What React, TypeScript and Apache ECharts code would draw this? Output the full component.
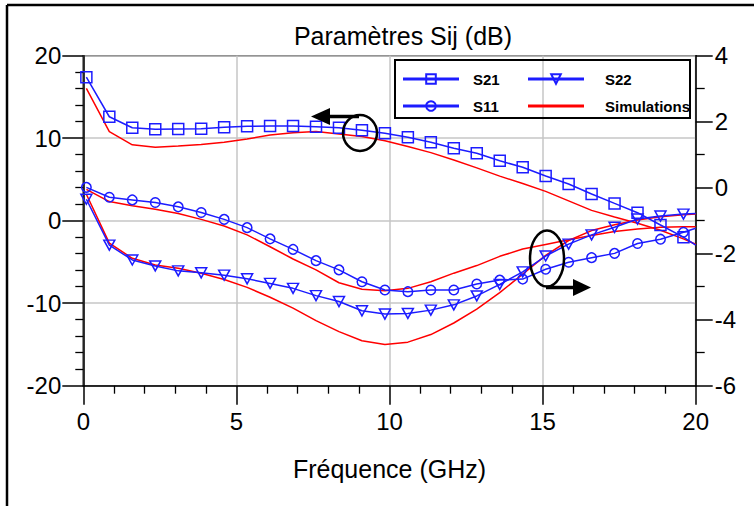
import { useEffect, useRef } from 'react';
import * as echarts from 'echarts';

// Frequencies (GHz) at which measured markers / simulated samples are drawn
const freqGHz = [0.1, 0.85, 1.6, 2.35, 3.1, 3.85, 4.6, 5.35, 6.1, 6.85, 7.6, 8.35, 9.1, 9.85, 10.6, 11.35, 12.1, 12.85, 13.6, 14.35, 15.1, 15.85, 16.6, 17.35, 18.1, 18.85, 19.6, 20];

// Measured (left axis, dB)
const s21Measured = [17.4, 12.6, 11.27, 11.08, 11.12, 11.15, 11.32, 11.44, 11.48, 11.48, 11.4, 11.27, 10.96, 10.6, 10.11, 9.5, 8.78, 8.17, 7.27, 6.47, 5.42, 4.45, 3.24, 2.1, 0.97, -0.52, -2.0, -2.95];
// Measured (right axis, dB)
const s11Measured = [0.01, -0.29, -0.37, -0.45, -0.58, -0.75, -0.96, -1.21, -1.55, -1.87, -2.21, -2.49, -2.85, -3.1, -3.15, -3.1, -3.1, -2.92, -2.8, -2.77, -2.47, -2.26, -2.12, -1.99, -1.69, -1.56, -1.35, -1.23];
const s22Measured = [-0.35, -1.74, -2.19, -2.37, -2.52, -2.58, -2.65, -2.76, -2.9, -3.05, -3.27, -3.45, -3.73, -3.83, -3.81, -3.71, -3.55, -3.28, -2.93, -2.55, -2.07, -1.71, -1.43, -1.2, -0.95, -0.86, -0.8, -0.78];

// Simulations
const s21Simulated = [16.05, 10.8, 9.2, 8.9, 9.05, 9.25, 9.5, 9.9, 10.4, 10.65, 10.8, 10.5, 10.2, 9.7, 9.0, 8.25, 7.35, 6.4, 5.4, 4.5, 3.55, 2.4, 1.25, 0.45, -0.3, -1.15, -2.2, -2.85];
const s11Simulated = [-0.05, -0.42, -0.55, -0.65, -0.78, -0.96, -1.16, -1.43, -1.79, -2.16, -2.49, -2.88, -3.08, -3.12, -3.05, -2.85, -2.59, -2.36, -2.08, -1.86, -1.72, -1.58, -1.45, -1.33, -1.25, -1.2, -1.18, -1.18];
const s22Simulated = [-0.2, -1.68, -2.14, -2.34, -2.44, -2.59, -2.78, -3.02, -3.32, -3.65, -4.03, -4.36, -4.64, -4.75, -4.68, -4.45, -4.1, -3.68, -3.18, -2.62, -2.05, -1.6, -1.3, -1.12, -0.98, -0.88, -0.82, -0.8];

const titleText = 'Paramètres Sij (dB)';
const xAxisName = 'Fréquence (GHz)';
const legendColumn1 = ['S21', 'S11'];
const legendColumn2 = ['S22', 'Simulations'];

const BLUE = '#1c1cff';
const RED = '#ff0000';
const FONT = "'Liberation Sans', Arial, sans-serif";

function measuredPoints(vals: number[]) {
  return freqGHz.map((f, i) =>
    i === freqGHz.length - 1 ? { value: [f, vals[i]], symbol: 'none' } : [f, vals[i]]
  );
}
function simPoints(vals: number[]) {
  return freqGHz.map((f, i) => [f, vals[i]]);
}

export default function App() {
  const ref = useRef<HTMLDivElement>(null);
  useEffect(() => {
    if (!ref.current) return;
    const chart = echarts.init(ref.current, undefined, { renderer: 'svg' });

    const measuredBase = (name: string, data: any[], symbol: string, size: any, yAxisIndex: number) => ({
      name,
      type: 'line',
      yAxisIndex,
      data,
      symbol,
      symbolSize: size,
      showSymbol: true,
      color: BLUE,
      lineStyle: { color: BLUE, width: 1.5 },
      itemStyle: { color: 'rgba(255,255,255,0)', borderColor: BLUE, borderWidth: 1.5 },
      silent: true,
      z: 3,
    });
    const simBase = (data: any[], yAxisIndex: number) => ({
      name: 'Simulations',
      type: 'line',
      yAxisIndex,
      data,
      symbol: 'none',
      color: RED,
      lineStyle: { color: RED, width: 1.5 },
      silent: true,
      z: 2,
    });

    const legendCommon = {
      orient: 'vertical',
      top: 71.5,
      padding: 0,
      itemWidth: 56,
      itemHeight: 12,
      itemGap: 12,
      selectedMode: false,
      lineStyle: { width: 3 },
    };

    chart.setOption({
      animation: false,
      backgroundColor: '#ffffff',
      grid: {
        left: 83.3,
        right: 58.3,
        top: 55.7,
        bottom: 120.3,
        show: true,
        borderColor: '#000',
        borderWidth: 1.5,
        backgroundColor: 'transparent',
      },
      legend: [
        {
          ...legendCommon,
          left: 401.5,
          data: legendColumn1,
          textStyle: { fontFamily: FONT, fontWeight: 'bold', fontSize: 15, color: '#000', padding: [0, 0, 0, 9] },
        },
        {
          ...legendCommon,
          left: 526.5,
          data: [
            legendColumn2[0],
            { name: legendColumn2[1], icon: 'path://M0,0H56V3H0Z' },
          ],
          textStyle: { fontFamily: FONT, fontWeight: 'bold', fontSize: 15, color: '#000', padding: [0, 0, 0, 16] },
        },
      ],
      xAxis: {
        type: 'value',
        min: 0,
        max: 20,
        interval: 5,
        name: xAxisName,
        nameLocation: 'middle',
        nameGap: 71,
        nameTextStyle: { fontFamily: FONT, fontSize: 25, color: '#000' },
        axisLine: { show: true, onZero: false, lineStyle: { color: '#000', width: 1.5 } },
        axisTick: { show: true, inside: false, length: 19, lineStyle: { color: '#000', width: 1.5 } },
        minorTick: { show: true, splitNumber: 5, length: 8, lineStyle: { color: '#000', width: 1.3 } },
        axisLabel: { margin: 24, fontFamily: FONT, fontSize: 24, color: '#000' },
        splitLine: { show: true, lineStyle: { color: '#c6c6c6', width: 1.5 } },
      },
      yAxis: [
        {
          type: 'value',
          position: 'left',
          min: -20,
          max: 20,
          interval: 10,
          axisLine: { show: true, onZero: false, lineStyle: { color: '#000', width: 1.5 } },
          axisTick: { show: true, inside: false, length: 21, lineStyle: { color: '#000', width: 1.5 } },
          minorTick: { show: true, splitNumber: 5, length: 8, lineStyle: { color: '#000', width: 1.3 } },
          axisLabel: { margin: 22, fontFamily: FONT, fontSize: 24, color: '#000' },
          splitLine: { show: true, lineStyle: { color: '#c6c6c6', width: 1.5 } },
        },
        {
          type: 'value',
          position: 'right',
          min: -6,
          max: 4,
          interval: 2,
          axisLine: { show: true, onZero: false, lineStyle: { color: '#000', width: 1.5 } },
          axisTick: { show: true, inside: false, length: 17, lineStyle: { color: '#000', width: 1.5 } },
          minorTick: { show: true, splitNumber: 2, length: 9, lineStyle: { color: '#000', width: 1.3 } },
          axisLabel: { margin: 19, fontFamily: FONT, fontSize: 24, color: '#000' },
          splitLine: { show: false },
        },
      ],
      series: [
        simBase(simPoints(s21Simulated), 0),
        simBase(simPoints(s11Simulated), 1),
        simBase(simPoints(s22Simulated), 1),
        measuredBase('S21', measuredPoints(s21Measured), 'rect', 11, 0),
        measuredBase('S11', measuredPoints(s11Measured), 'circle', 9.5, 1),
        measuredBase('S22', measuredPoints(s22Measured), 'path://M0,0L10,0L5,9Z', [11, 10], 1),
      ],
      graphic: [
        // outer frame
        { type: 'line', z: 100, shape: { x1: 7, y1: 5, x2: 754, y2: 5 }, style: { stroke: '#000', lineWidth: 2.5 } },
        { type: 'line', z: 100, shape: { x1: 7, y1: 5, x2: 7, y2: 506 }, style: { stroke: '#000', lineWidth: 2.5 } },
        // title
        {
          type: 'text', z: 100, x: 403, y: 36,
          style: { text: titleText, font: `25px ${FONT}`, fill: '#000', textAlign: 'center', textVerticalAlign: 'middle' },
        },
        // legend frame
        { type: 'rect', z: 100, shape: { x: 395, y: 60, width: 295, height: 58 }, style: { fill: 'none', stroke: '#000', lineWidth: 2 } },
        // annotation: S21 -> left axis
        { type: 'ellipse', z: 100, shape: { cx: 360, cy: 133, rx: 17, ry: 18 }, style: { fill: 'none', stroke: '#000', lineWidth: 2.5 } },
        { type: 'line', z: 100, shape: { x1: 328, y1: 116.5, x2: 359, y2: 116.5 }, style: { stroke: '#000', lineWidth: 3.5 } },
        { type: 'polygon', z: 100, shape: { points: [[311, 116.5], [330, 108], [330, 125]] }, style: { fill: '#000' } },
        // annotation: S11/S22 -> right axis
        { type: 'ellipse', z: 100, shape: { cx: 547, cy: 258.5, rx: 17, ry: 28 }, style: { fill: 'none', stroke: '#000', lineWidth: 2.5 } },
        { type: 'line', z: 100, shape: { x1: 546, y1: 287.5, x2: 575, y2: 287.5 }, style: { stroke: '#000', lineWidth: 3.5 } },
        { type: 'polygon', z: 100, shape: { points: [[591, 287.5], [573, 279], [573, 296]] }, style: { fill: '#000' } },
      ],
    });
    return () => chart.dispose();
  }, []);
  return (
    <div
      ref={ref}
      style={{ position: 'fixed', left: 0, top: 0, width: 754, height: 506, background: '#fff' }}
    />
  );
}
